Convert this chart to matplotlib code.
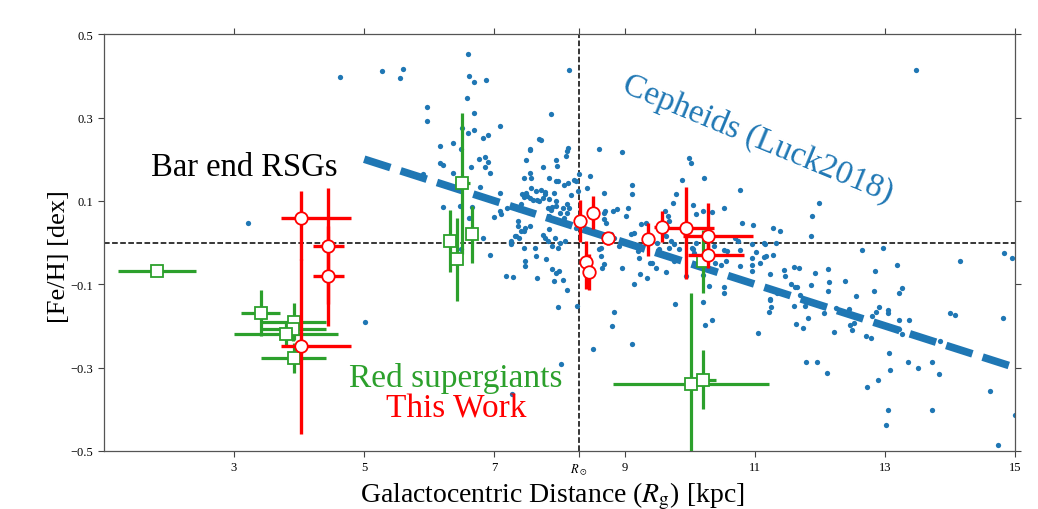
import matplotlib.pyplot as plt

plt.rcParams['font.family'] = ['Liberation Serif', 'DejaVu Serif']
plt.rcParams['mathtext.fontset'] = 'stix'

R_SUN = 8.3

# Cepheids (Luck 2018)
cep_r = [
    10.98, 11.28, 11.38, 11.14, 11.32, 10.95, 11.02, 11.14, 11.28, 10.95, 10.96, 11.08, 10.95, 11.24,
    11.45, 11.46, 11.60, 11.68, 11.55, 11.62, 11.65, 11.34, 11.70, 11.23, 11.25, 11.22, 11.60, 11.77,
    11.64, 11.74, 11.82, 11.05, 11.86, 11.86, 11.88, 11.98, 11.93, 12.13, 12.14, 12.12, 12.06, 12.25,
    12.21, 11.79, 11.96, 12.11, 12.38, 12.45, 12.46, 12.49, 12.53, 12.55, 12.64, 12.85, 12.83, 12.91,
    12.86, 12.80, 12.71, 12.78, 12.97, 13.18, 13.21, 13.26, 13.05, 13.05, 13.22, 13.37, 13.26, 13.22,
    13.06, 13.08, 13.36, 13.50, 13.72, 13.83, 12.72, 12.90, 13.05, 13.02, 13.73, 13.85, 14.00, 14.07,
    14.16, 14.82, 14.83, 14.95, 14.62, 14.74, 14.99, 13.47,
    8.15, 8.12, 8.10, 8.60, 8.96, 9.99, 10.02, 10.22, 9.88, 10.78, 8.30, 8.47, 8.42, 8.69,
    9.12, 9.12, 9.79, 9.75, 10.53, 10.81, 8.07, 8.13, 8.25, 9.02, 8.82, 8.88, 8.69, 9.25,
    10.10, 10.20, 10.35, 10.05,
    4.63, 5.27, 5.55, 5.59, 6.59, 6.61, 6.69, 6.87, 6.58, 6.69, 6.59, 6.68, 6.51, 5.96,
    5.96, 7.09, 7.87, 6.17, 6.37, 6.49, 6.82, 6.90, 7.72, 7.55, 6.76, 6.85, 6.90, 6.16,
    6.21, 6.86, 6.94, 6.37, 7.49, 7.74, 7.95, 7.46, 7.84, 7.94, 6.78, 6.47, 6.21, 6.66,
    7.08, 7.00, 7.10, 7.19, 7.56, 7.49, 7.46, 7.54, 7.64, 7.72, 7.77, 7.74, 7.69, 7.84,
    7.88, 7.94, 8.05, 8.12, 8.18, 8.23, 8.28, 7.36, 7.41, 3.21,
    6.64, 5.90, 7.54, 7.69, 7.96, 8.13, 7.54, 7.56, 7.97, 7.43, 7.50, 7.59, 7.66, 7.78,
    7.92, 7.94, 8.15, 7.82, 7.87, 7.84, 7.09, 7.37, 7.36, 7.41, 7.32, 7.38, 7.45, 7.25,
    7.46, 7.62, 7.74, 7.77, 7.82, 7.89, 7.97, 8.01, 8.08, 7.93, 8.25, 7.84, 8.07, 8.11, 8.01,
    8.70, 9.06, 8.69, 8.71, 9.33, 9.62, 9.67, 9.68, 9.15, 9.10, 8.79, 8.84, 9.59, 9.64,
    9.71, 9.76, 9.84, 10.04, 10.10, 10.38, 10.52, 10.57, 10.70, 10.75, 11.15, 8.64, 8.92, 9.68,
    6.61, 6.49, 6.82, 6.94, 7.25, 7.33, 7.47, 7.54, 7.47, 7.64, 7.79, 7.18, 7.28, 7.47,
    7.66, 7.89, 7.94, 8.00, 7.91, 8.05, 8.12, 8.27, 7.98, 8.03, 7.27, 8.52, 8.61, 8.64,
    8.69, 8.66, 8.84, 8.81, 8.96, 9.11, 9.15, 9.24, 9.22, 9.21, 9.39, 9.42, 9.48, 9.34,
    9.64, 9.53, 9.50, 9.76, 9.77, 9.94, 10.05, 10.07, 10.20, 10.21, 10.30, 10.23, 10.34, 10.39,
    10.48, 10.56, 10.52, 10.52, 10.78, 10.78, 11.17, 11.24, 5.01,
]
cep_feh = [
    0.042, 0.036, 0.028, -0.002, 0.000, -0.004, -0.022, -0.034, -0.030, -0.036, -0.054, -0.050, -0.068, -0.076,
    -0.067, -0.080, -0.058, -0.062, -0.099, -0.106, -0.106, -0.120, -0.126, -0.138, -0.154, -0.166, -0.152, -0.152,
    -0.196, -0.206, -0.182, -0.216, -0.102, 0.016, 0.064, 0.094, -0.074, -0.064, -0.094, -0.116, -0.170, -0.156,
    -0.214, -0.286, -0.286, -0.314, -0.093, -0.160, -0.198, -0.209, -0.192, -0.128, -0.018, -0.068, -0.116, -0.154,
    -0.166, -0.176, -0.224, -0.230, -0.012, -0.054, -0.120, -0.110, -0.162, -0.169, -0.185, -0.186, -0.220, -0.208,
    -0.266, -0.305, -0.286, -0.302, -0.286, -0.316, -0.346, -0.330, -0.402, -0.438, -0.402, -0.236, -0.170, -0.173,
    -0.044, -0.182, -0.026, -0.036, -0.357, -0.486, -0.414, 0.414,
    0.414, 0.220, 0.208, 0.224, 0.218, 0.204, 0.192, 0.155, 0.150, 0.126, 0.164, 0.159, 0.132, 0.119,
    0.139, 0.116, 0.116, 0.096, 0.082, 0.047, 0.138, 0.142, 0.148, 0.064, 0.076, 0.080, 0.072, 0.044,
    0.068, 0.076, 0.074, 0.090,
    0.398, 0.412, 0.396, 0.416, 0.452, 0.400, 0.386, 0.390, 0.348, 0.311, 0.264, 0.270, 0.276, 0.326,
    0.292, 0.279, 0.308, 0.232, 0.239, 0.224, 0.252, 0.258, 0.246, 0.223, 0.200, 0.206, 0.194, 0.190,
    0.186, 0.182, 0.168, 0.167, 0.199, 0.182, 0.199, 0.155, 0.156, 0.148, 0.134, 0.088, 0.086, 0.086,
    0.120, 0.062, 0.068, 0.082, 0.132, 0.120, 0.110, 0.108, 0.124, 0.127, 0.116, 0.108, 0.100, 0.104,
    0.086, 0.088, 0.084, 0.092, 0.114, 0.150, 0.124, 0.080, 0.092, 0.048,
    0.182, 0.164, 0.224, 0.248, 0.184, 0.228, 0.167, 0.154, 0.147, 0.116, 0.112, 0.102, 0.102, 0.122,
    0.119, 0.099, 0.083, 0.084, 0.078, 0.064, 0.076, 0.052, 0.040, 0.028, 0.016, 0.012, 0.028, 0.004,
    -0.013, -0.013, 0.019, 0.011, 0.004, -0.008, -0.012, 0.000, 0.004, 0.011, 0.035, 0.032, 0.060, 0.070, 0.072,
    0.075, 0.083, 0.056, 0.048, 0.048, 0.075, 0.064, 0.051, 0.024, 0.020, 0.020, 0.012, 0.022, 0.016,
    0.004, -0.004, -0.016, -0.012, 0.000, -0.008, -0.018, -0.020, 0.011, 0.004, -0.004, -0.012, -0.008, -0.013,
    0.059, -0.016, 0.010, -0.030, -0.004, 0.015, 0.034, 0.040, -0.044, -0.032, -0.040, -0.080, -0.082, -0.056,
    -0.085, -0.064, -0.072, -0.068, -0.092, -0.090, -0.113, -0.152, -0.155, -0.291, -0.363, -0.255, -0.016, -0.032,
    -0.052, -0.060, -0.166, -0.200, -0.060, -0.243, -0.100, -0.076, -0.038, -0.020, -0.048, -0.050, -0.060, -0.084,
    -0.070, -0.016, 0.000, -0.044, -0.148, -0.080, -0.016, -0.024, -0.078, -0.142, -0.104, -0.197, -0.185, -0.048,
    -0.054, -0.044, -0.106, -0.122, -0.056, -0.017, -0.032, -0.135, -0.191,
]

# Cepheid gradient (dashed line)
grad_r = [5.0, 15.0]
grad_feh = [0.20, -0.30]

# red supergiants from literature (green squares)
rsg_r = [1.82, 3.41, 3.92, 3.91, 3.80, 3.92, 6.51, 6.32, 6.42, 6.66, 10.02, 10.21, 10.21]
rsg_feh = [-0.069, -0.169, -0.190, -0.207, -0.220, -0.277, 0.142, 0.004, -0.040, 0.020, -0.340, -0.329, -0.045]
rsg_rerr = [0.60, 0.30, 0.50, 0.50, 0.80, 0.50, 0.12, 0.10, 0.05, 0.08, 1.20, 0.20, 0.05]
rsg_feherr = [0.012, 0.055, 0.045, 0.03, 0.03, 0.035, 0.17, 0.075, 0.10, 0.068, 0.22, 0.07, 0.075]

# this work (red circles)
tw_r = [4.03, 4.45, 4.45, 4.03, 8.32, 8.52, 8.40, 8.46, 8.75, 9.36, 9.57, 9.95, 10.28, 10.28]
tw_feh = [0.059, -0.008, -0.080, -0.249, 0.052, 0.072, -0.046, -0.071, 0.010, 0.008, 0.038, 0.035, 0.015, -0.030]
tw_rerr_lo = [0.31, 0.24, 0.24, 0.31, 0.03, 0.03, 0.03, 0.03, 0.04, 0.03, 0.12, 0.29, 0.39, 0.31]
tw_rerr_hi = [0.77, 0.24, 0.24, 0.77, 0.03, 0.03, 0.03, 0.03, 0.04, 0.03, 0.12, 0.42, 0.70, 0.56]
tw_feherr_lo = [0.10, 0.14, 0.12, 0.21, 0.05, 0.04, 0.066, 0.044, 0.015, 0.04, 0.037, 0.122, 0.05, 0.03]
tw_feherr_hi = [0.065, 0.14, 0.12, 0.21, 0.05, 0.04, 0.05, 0.044, 0.015, 0.04, 0.037, 0.098, 0.08, 0.03]

blue = '#1f77b4'
green = '#2ca02c'
red = '#ff0000'

fig = plt.figure(figsize=(10.38, 5.10), dpi=100)
ax = fig.add_axes([0.100, 0.114, 0.878, 0.817])

ax.plot(cep_r, cep_feh, 'o', color=blue, ms=3.8, mew=0, zorder=2)
ax.plot(grad_r, grad_feh, color=blue, lw=5.5, ls=(0, (3.6, 1.4)), zorder=3)

ax.axhline(0, color='k', ls='--', lw=1.1, zorder=1)
ax.axvline(R_SUN, color='k', ls='--', lw=1.1, zorder=1)

ax.errorbar(rsg_r, rsg_feh, xerr=rsg_rerr, yerr=rsg_feherr, fmt='s', ms=8.5,
            mfc='white', mec=green, mew=1.3, ecolor=green, elinewidth=2.3,
            capsize=0, zorder=4)
ax.errorbar(tw_r, tw_feh, xerr=[tw_rerr_lo, tw_rerr_hi], yerr=[tw_feherr_lo, tw_feherr_hi],
            fmt='o', ms=9, mfc='white', mec=red, mew=1.3, ecolor=red,
            elinewidth=2.4, capsize=0, zorder=5)

ax.text(3.15, 0.181, 'Bar end RSGs', fontsize=23.5, ha='center', va='center', color='k')
ax.text(6.41, -0.323, 'Red supergiants', fontsize=24, ha='center', va='center', color=green)
ax.text(6.41, -0.398, 'This Work', fontsize=24, ha='center', va='center', color=red)
ax.text(11.05, 0.25, 'Cepheids (Luck2018)', fontsize=24, ha='center', va='center',
        color=blue, rotation=-22.5, rotation_mode='anchor')

ax.set_xlim(1, 15)
ax.set_ylim(-0.5, 0.5)
ax.set_xticks([3, 5, 7, R_SUN, 9, 11, 13, 15])
ax.set_xticklabels(['3', '5', '7', r'$R_\odot$', '9', '11', '13', '15'])
ax.set_yticks([-0.5, -0.3, -0.1, 0.1, 0.3, 0.5])
ax.set_yticklabels(['\u22120.5', '\u22120.3', '\u22120.1', '0.1', '0.3', '0.5'])
ax.tick_params(direction='out', length=4, width=0.8, labelsize=9, top=True, right=True,
               colors='#444444', labelcolor='k')
for sp in ax.spines.values():
    sp.set_color('#555555')
    sp.set_linewidth(0.9)

ax.set_xlabel(r'Galactocentric Distance ($R_{\rm g}$) [kpc]', fontsize=20)
ax.xaxis.set_label_coords(0.492, -0.068)
ax.set_ylabel('[Fe/H] [dex]', fontsize=19)
ax.yaxis.set_label_coords(-0.037, 0.468)

plt.savefig('out.png', dpi=100)
